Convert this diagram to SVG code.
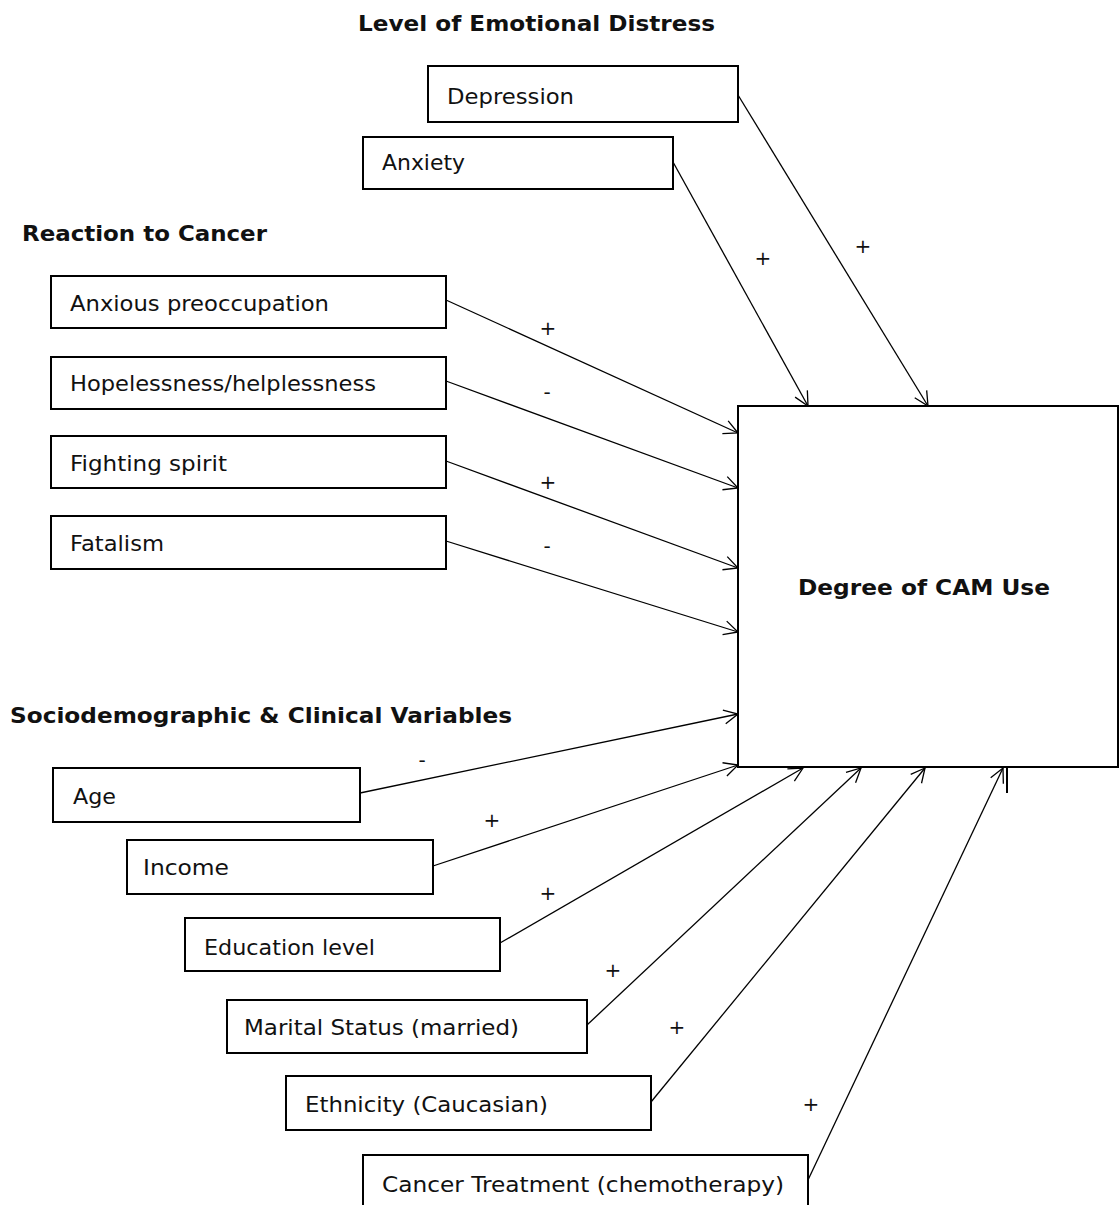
<svg xmlns="http://www.w3.org/2000/svg" width="1120" height="1205" viewBox="0 0 1120 1205">
<style>
.box{fill:#fff;stroke:#000;stroke-width:2}
.t{font-family:"DejaVu Sans","Liberation Sans",sans-serif;font-size:21px;fill:#111}
.h{font-family:"DejaVu Sans","Liberation Sans",sans-serif;font-size:21px;font-weight:bold;fill:#111}
.s{font-family:"DejaVu Sans","Liberation Sans",sans-serif;font-size:20px;fill:#111}
.c{fill:none;stroke:#000;stroke-width:1.3;marker-end:url(#ah)}
</style>
<defs>
<marker id="ah" viewBox="0 0 20 20" refX="19" refY="10" markerWidth="20" markerHeight="20" markerUnits="userSpaceOnUse" orient="auto">
<path d="M5,3 L19,10 L5,17" fill="none" stroke="#000" stroke-width="1.3"/>
</marker>
</defs>
<rect width="1120" height="1205" fill="#fff"/>
<text class="h" x="358" y="31" textLength="357" lengthAdjust="spacingAndGlyphs">Level of Emotional Distress</text>
<text class="h" x="22" y="241" textLength="245" lengthAdjust="spacingAndGlyphs">Reaction to Cancer</text>
<text class="h" x="10" y="723" textLength="502" lengthAdjust="spacingAndGlyphs">Sociodemographic &amp; Clinical Variables</text>
<g id="connectors">
<line class="c" x1="738" y1="95" x2="928" y2="406"/>
<line class="c" x1="673" y1="162" x2="808" y2="406"/>
<line class="c" x1="446" y1="300" x2="738" y2="433"/>
<line class="c" x1="446" y1="381" x2="738" y2="488"/>
<line class="c" x1="446" y1="461" x2="738" y2="568"/>
<line class="c" x1="446" y1="541" x2="738" y2="632"/>
<line class="c" x1="360" y1="793" x2="738" y2="714"/>
<line class="c" x1="433" y1="866" x2="738" y2="765"/>
<line class="c" x1="500" y1="943" x2="803" y2="768"/>
<line class="c" x1="587" y1="1025" x2="861" y2="768"/>
<line class="c" x1="651" y1="1102" x2="925" y2="768"/>
<line class="c" x1="808" y1="1180" x2="1003" y2="768"/>
<line x1="1007" y1="767" x2="1007" y2="793" stroke="#000" stroke-width="2"/>
<text class="s" x="863" y="253" text-anchor="middle">+</text>
<text class="s" x="763" y="265" text-anchor="middle">+</text>
<text class="s" x="548" y="335" text-anchor="middle">+</text>
<text class="s" x="547" y="399" text-anchor="middle">-</text>
<text class="s" x="548" y="489" text-anchor="middle">+</text>
<text class="s" x="547" y="553" text-anchor="middle">-</text>
<text class="s" x="422" y="767" text-anchor="middle">-</text>
<text class="s" x="492" y="827" text-anchor="middle">+</text>
<text class="s" x="548" y="900" text-anchor="middle">+</text>
<text class="s" x="613" y="977" text-anchor="middle">+</text>
<text class="s" x="677" y="1034" text-anchor="middle">+</text>
<text class="s" x="811" y="1111" text-anchor="middle">+</text>
</g>
<g id="depression"><rect class="box" x="428" y="66" width="310" height="56"/><text class="t" x="447" y="104" textLength="127" lengthAdjust="spacingAndGlyphs">Depression</text></g>
<g id="anxiety"><rect class="box" x="363" y="137" width="310" height="52"/><text class="t" x="382" y="170" textLength="83" lengthAdjust="spacingAndGlyphs">Anxiety</text></g>
<g id="anxious"><rect class="box" x="51" y="276" width="395" height="52"/><text class="t" x="70" y="311" textLength="259" lengthAdjust="spacingAndGlyphs">Anxious preoccupation</text></g>
<g id="hopeless"><rect class="box" x="51" y="357" width="395" height="52"/><text class="t" x="70" y="391" textLength="306" lengthAdjust="spacingAndGlyphs">Hopelessness/helplessness</text></g>
<g id="fighting"><rect class="box" x="51" y="436" width="395" height="52"/><text class="t" x="70" y="471" textLength="157" lengthAdjust="spacingAndGlyphs">Fighting spirit</text></g>
<g id="fatalism"><rect class="box" x="51" y="516" width="395" height="53"/><text class="t" x="70" y="551" textLength="94" lengthAdjust="spacingAndGlyphs">Fatalism</text></g>
<g id="cam"><rect class="box" x="738" y="406" width="380" height="361" stroke-width="2.5"/><text class="h" x="798" y="595" textLength="252" lengthAdjust="spacingAndGlyphs">Degree of CAM Use</text></g>
<g id="age"><rect class="box" x="53" y="768" width="307" height="54"/><text class="t" x="73" y="804" textLength="43" lengthAdjust="spacingAndGlyphs">Age</text></g>
<g id="income"><rect class="box" x="127" y="840" width="306" height="54"/><text class="t" x="143" y="875" textLength="86" lengthAdjust="spacingAndGlyphs">Income</text></g>
<g id="education"><rect class="box" x="185" y="918" width="315" height="53"/><text class="t" x="204" y="955" textLength="171" lengthAdjust="spacingAndGlyphs">Education level</text></g>
<g id="marital"><rect class="box" x="227" y="1000" width="360" height="53"/><text class="t" x="244" y="1035" textLength="275" lengthAdjust="spacingAndGlyphs">Marital Status (married)</text></g>
<g id="ethnicity"><rect class="box" x="286" y="1076" width="365" height="54"/><text class="t" x="305" y="1112" textLength="243" lengthAdjust="spacingAndGlyphs">Ethnicity (Caucasian)</text></g>
<g id="treatment"><rect class="box" x="363" y="1155" width="445" height="60"/><text class="t" x="382" y="1192" textLength="402" lengthAdjust="spacingAndGlyphs">Cancer Treatment (chemotherapy)</text></g>
</svg>
